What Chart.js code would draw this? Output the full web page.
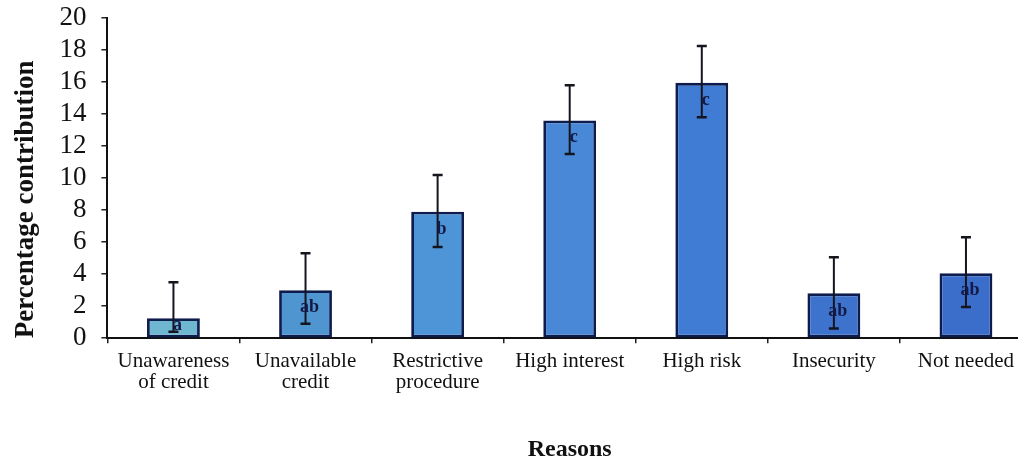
<!DOCTYPE html>
<html>
<head>
<meta charset="utf-8">
<script src="https://cdn.jsdelivr.net/npm/chart.js@4.4.1/dist/chart.umd.min.js"></script>
<style>
html,body{margin:0;padding:0;background:#fff;overflow:hidden;}
#wrap{width:1032px;height:472px;position:relative;}
</style>
</head>
<body>
<div id="wrap"><canvas id="c"></canvas></div>
<script>
const categories = [["Unawareness","of credit"],["Unavailable","credit"],["Restrictive","procedure"],"High interest","High risk","Insecurity","Not needed"];
const values = [1.25, 3.0, 7.9, 13.6, 15.95, 2.8, 4.05];
const errHigh = [3.5, 5.3, 10.2, 15.8, 18.25, 5.05, 6.3];
const errLow = [0.4, 0.9, 5.7, 11.5, 13.8, 0.6, 1.95];
const letters = ["a","ab","b","c","c","ab","ab"];
const yTicks = [0,2,4,6,8,10,12,14,16,18,20];

const barColors = ["#6fb7d0","#4f95cf","#4e95d8","#4888d6","#407cd3","#3e73cd","#3b6dcb"];
const serif = "'Liberation Serif','Times New Roman',serif";

const errorPlugin = {
  id: 'errbars',
  afterDatasetsDraw(chart) {
    const ctx = chart.ctx;
    const meta = chart.getDatasetMeta(0);
    const y = chart.scales.y;
    ctx.save();
    meta.data.forEach((bar, i) => {
      const x = bar.x;
      const top = y.getPixelForValue(errHigh[i]);
      const bot = y.getPixelForValue(errLow[i]);
      ctx.strokeStyle = '#15151f';
      ctx.lineWidth = 2;
      ctx.beginPath();
      ctx.moveTo(x, top); ctx.lineTo(x, bot);
      ctx.stroke();
      ctx.lineWidth = 2.5;
      ctx.beginPath();
      ctx.moveTo(x - 5, top); ctx.lineTo(x + 5, top);
      ctx.moveTo(x - 5, bot); ctx.lineTo(x + 5, bot);
      ctx.stroke();
      const ly = (bar.y + bot) / 2;
      ctx.fillStyle = '#141a45';
      ctx.font = 'bold 18px ' + serif;
      ctx.textAlign = 'center';
      ctx.textBaseline = 'middle';
      ctx.fillText(letters[i], x + 4, ly);
    });
    ctx.restore();
  }
};

new Chart(document.getElementById('c'), {
  type: 'bar',
  data: {
    labels: categories,
    datasets: [{
      data: values,
      backgroundColor: barColors,
      borderColor: '#0d1b4d',
      borderWidth: 2.8,
      borderSkipped: false,
      categoryPercentage: 1,
      barPercentage: 0.4
    }]
  },
  options: {
    responsive: true,
    maintainAspectRatio: false,
    animation: false,
    layout: { padding: { top: 3, left: 10, right: 0, bottom: 8 } },
    plugins: { legend: { display: false }, tooltip: { enabled: false } },
    scales: {
      x: {
        offset: true,
        grid: { display: true, offset: true, drawOnChartArea: false, drawTicks: true, tickLength: 5, color: '#222', lineWidth: 1.5 },
        border: { display: true, color: '#111', width: 2 },
        ticks: { color: '#111', font: { family: serif, size: 21, lineHeight: 1.0 }, maxRotation: 0, autoSkip: false, padding: 8 },
        title: { display: true, text: 'Reasons', color: '#111', font: { family: serif, size: 24, weight: 'bold' }, padding: { top: 34, bottom: 0 } }
      },
      y: {
        min: 0, max: 20,
        afterBuildTicks(scale) { scale.ticks = yTicks.map(v => ({ value: v })); },
        afterFit(scale) { scale.paddingTop = 18; },
        grid: { display: true, drawOnChartArea: false, drawTicks: true, tickLength: 6, color: '#222', lineWidth: 1.5 },
        border: { display: true, color: '#111', width: 2 },
        ticks: { color: '#111', font: { family: serif, size: 27, lineHeight: 0.9 }, padding: 15, autoSkip: false },
        title: { display: true, text: 'Percentage contribution', align: 'start', color: '#111', font: { family: serif, size: 27, weight: 'bold' }, padding: { top: 0, bottom: 2 } }
      }
    }
  },
  plugins: [errorPlugin]
});
</script>
</body>
</html>
